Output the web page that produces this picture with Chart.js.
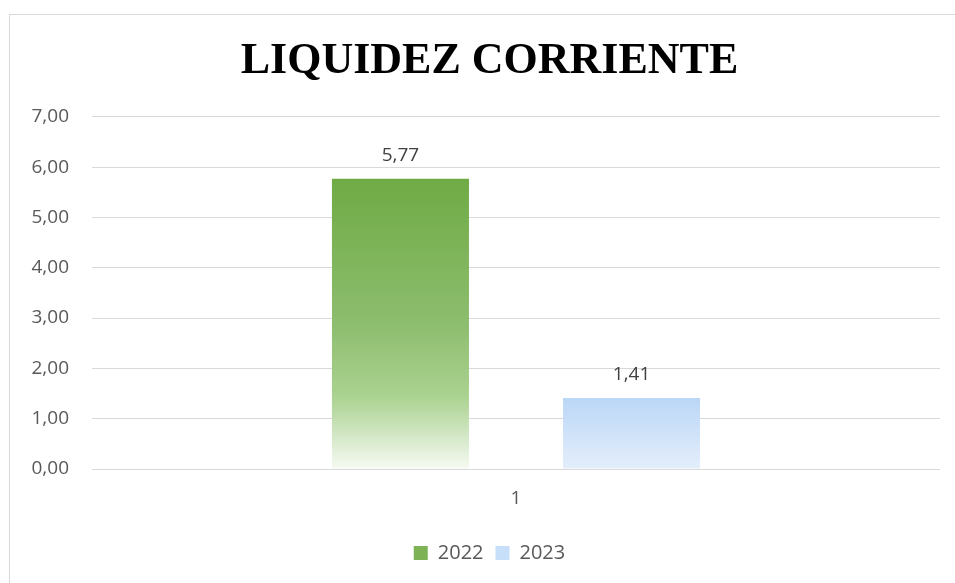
<!DOCTYPE html>
<html>
<head>
<meta charset="utf-8">
<script src="https://cdn.jsdelivr.net/npm/chart.js@4"></script>
<style>
  html, body { margin: 0; padding: 0; background: #fff; overflow: hidden; }
  #frame { position: absolute; left: 9px; top: 14px; width: 980px; height: 600px; border: 1px solid #d9d9d9; }
  #wrap { position: absolute; left: 0; top: 0; width: 980px; height: 583px; }
</style>
</head>
<body>
<div id="frame"></div>
<div id="wrap"><canvas id="chart"></canvas></div>
<script>
// datos del gráfico
const categories = ['1'];
const seriesNames = ['2022', '2023'];
const values2022 = [5.77];
const values2023 = [1.41];
const yTicks = [0, 1, 2, 3, 4, 5, 6, 7];
const legendColors = ['#7DB356', '#C8DFF9'];

const FONT = '"Open Sans", sans-serif';

function fmt(v) {
  return v.toFixed(2).replace('.', ',');
}

// gradiente vertical desde la parte superior de la barra hasta la base
function barGradient(stops, solid) {
  return (ctx) => {
    const chart = ctx.chart;
    if (!chart.chartArea || ctx.type !== 'data') return solid;
    const y = chart.scales.y;
    const top = y.getPixelForValue(ctx.raw);
    const base = y.getPixelForValue(0);
    const g = chart.ctx.createLinearGradient(0, top, 0, base);
    stops.forEach(s => g.addColorStop(s[0], s[1]));
    return g;
  };
}

const greenStops = [[0, '#6FAB45'], [0.5, '#8DBD6E'], [0.75, '#AAD290'], [1, '#F6FAF3']];
const blueStops = [[0, '#BBD7F7'], [1, '#E4EEFB']];

// etiquetas de datos sobre las barras
const dataLabels = {
  id: 'dataLabels',
  afterDatasetsDraw(chart) {
    const c = chart.ctx;
    c.save();
    c.font = '19px ' + FONT;
    c.fillStyle = '#404040';
    c.textAlign = 'center';
    c.textBaseline = 'middle';
    chart.data.datasets.forEach((ds, i) => {
      chart.getDatasetMeta(i).data.forEach((bar, j) => {
        c.fillText(fmt(ds.data[j]), bar.x, bar.y - 23);
      });
    });
    c.restore();
  }
};

new Chart(document.getElementById('chart'), {
  type: 'bar',
  data: {
    labels: categories,
    datasets: [
      {
        label: seriesNames[0],
        data: values2022,
        backgroundColor: barGradient(greenStops, legendColors[0]),
        barPercentage: 0.593,
        categoryPercentage: 0.545
      },
      {
        label: seriesNames[1],
        data: values2023,
        backgroundColor: barGradient(blueStops, legendColors[1]),
        barPercentage: 0.593,
        categoryPercentage: 0.545
      }
    ]
  },
  options: {
    responsive: true,
    maintainAspectRatio: false,
    animation: false,
    layout: { padding: { left: 25, right: 26, top: 0, bottom: 10 } },
    plugins: {
      title: {
        display: true,
        text: 'LIQUIDEZ CORRIENTE',
        color: '#000',
        font: { family: '"Liberation Serif", serif', size: 44, weight: 'bold', lineHeight: 1.2 },
        padding: { top: 35, bottom: 29 }
      },
      legend: {
        position: 'bottom',
        labels: {
          color: '#595959',
          font: { family: FONT, size: 20 },
          boxWidth: 14,
          boxHeight: 14,
          padding: 12,
          generateLabels: (chart) => {
            const items = Chart.defaults.plugins.legend.labels.generateLabels(chart);
            items.forEach((it, i) => {
              it.fillStyle = legendColors[i];
              it.strokeStyle = legendColors[i];
              it.lineWidth = 0;
            });
            return items;
          }
        }
      },
      tooltip: { enabled: false }
    },
    scales: {
      x: {
        grid: { display: false },
        border: { display: false },
        ticks: { color: '#595959', font: { family: FONT, size: 19 }, padding: 10 },
        afterFit: (s) => { s.height = 62; }
      },
      y: {
        min: 0,
        max: 7,
        afterBuildTicks: (s) => { s.ticks = yTicks.map(v => ({ value: v })); },
        afterFit: (s) => { s.width = 67; },
        grid: { color: '#d9d9d9', lineWidth: 1, drawTicks: false },
        border: { display: false },
        ticks: {
          color: '#595959',
          font: { family: FONT, size: 19 },
          padding: 23,
          callback: (v) => fmt(v)
        }
      },
      // eje vacío a la derecha, solo para el margen
      yRight: {
        position: 'right',
        grid: { display: false },
        border: { display: false },
        ticks: { display: false },
        afterFit: (s) => { s.width = 14; }
      }
    }
  },
  plugins: [dataLabels]
});
</script>
</body>
</html>
